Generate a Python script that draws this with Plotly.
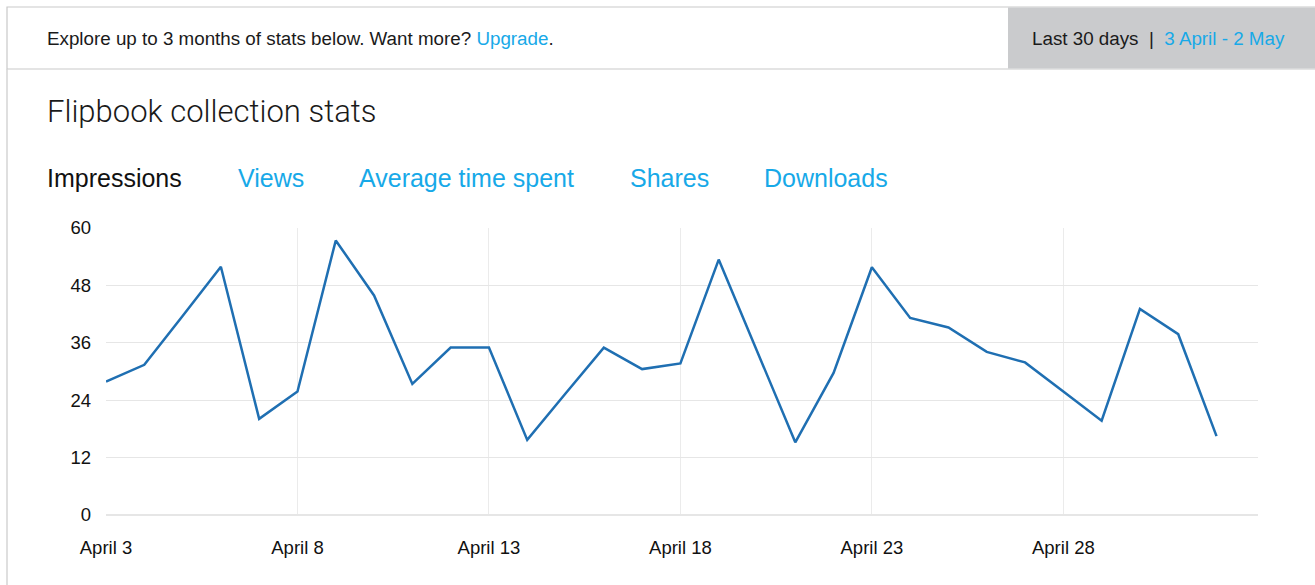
import plotly.graph_objects as go

# ---- data ----
dates = ["2019-04-03", "2019-04-04", "2019-04-05", "2019-04-06", "2019-04-07", "2019-04-08",
         "2019-04-09", "2019-04-10", "2019-04-11", "2019-04-12", "2019-04-13", "2019-04-14",
         "2019-04-15", "2019-04-16", "2019-04-17", "2019-04-18", "2019-04-19", "2019-04-20",
         "2019-04-21", "2019-04-22", "2019-04-23", "2019-04-24", "2019-04-25", "2019-04-26",
         "2019-04-27", "2019-04-28", "2019-04-29", "2019-04-30", "2019-05-01", "2019-05-02"]
impressions = [27.9, 31.4, 41.6, 51.9, 20.1, 25.8, 57.4, 45.9, 27.4, 35.0, 35.0, 15.7,
               25.4, 35.0, 30.5, 31.7, 53.4, 34.3, 15.2, 29.7, 51.8, 41.2, 39.2, 34.1,
               31.9, 25.8, 19.7, 43.1, 37.8, 16.5]
x_tick_dates = ["2019-04-03", "2019-04-08", "2019-04-13", "2019-04-18", "2019-04-23", "2019-04-28"]
x_tick_labels = ["April 3", "April 8", "April 13", "April 18", "April 23", "April 28"]
y_ticks = [0, 12, 24, 36, 48, 60]
tabs = ["Impressions", "Views", "Average time spent", "Shares", "Downloads"]
tab_x = [46, 237, 358, 629, 763]

W, H = 1315, 585
L, R, T, B = 106, 1258, 228, 515
BLUE = "#17a9e8"
FONT = "Liberation Sans, Arial, sans-serif"


def px(x):
    return (x - L) / (R - L)


def py(y):
    return (B - y) / (B - T)


fig = go.Figure()
fig.add_trace(go.Scatter(x=dates, y=impressions, mode="lines",
                         line=dict(color="#1f6fb2", width=2.5), hoverinfo="skip"))

shapes = [
    dict(type="rect", xref="paper", yref="paper", x0=px(7), x1=px(1330), y0=py(69), y1=py(7),
         line=dict(color="#c9c9c9", width=1.2), fillcolor="white", layer="below"),
    dict(type="rect", xref="paper", yref="paper", x0=px(1008), x1=px(1330), y0=py(68.5), y1=py(7.5),
         line=dict(width=0), fillcolor="#cacbcd", layer="below"),
    dict(type="line", xref="paper", yref="paper", x0=px(7), x1=px(7), y0=py(69), y1=py(600),
         line=dict(color="#d4d4d4", width=1.5)),
]

annotations = [
    dict(text="Explore up to 3 months of stats below. Want more? "
              f"<span style='color:{BLUE}'>Upgrade</span>.",
         x=px(45), y=py(38), font=dict(size=18.8, color="#1a1a1a", family=FONT)),
    dict(text=f"Last 30 days  |  <span style='color:{BLUE}'>3 April - 2 May</span>",
         x=px(1287), y=py(38), xanchor="right", font=dict(size=18.8, color="#1a1a1a", family=FONT)),
    dict(text="Flipbook collection stats", x=px(45), y=py(111),
         font=dict(size=31, color="#1a1a1a", family="Roboto, " + FONT, weight=300)),
]
for i, (t, x) in enumerate(zip(tabs, tab_x)):
    annotations.append(dict(text=t, x=px(x - 1), y=py(178),
                            font=dict(size=25, color="#111111" if i == 0 else BLUE, family=FONT)))
for a in annotations:
    a.setdefault("xanchor", "left")
    a.update(xref="paper", yref="paper", yanchor="middle", showarrow=False)

fig.update_layout(
    width=W, height=H,
    margin=dict(l=L, r=W - R, t=T, b=H - B, pad=0),
    paper_bgcolor="white", plot_bgcolor="white",
    showlegend=False,
    font=dict(family=FONT, size=18.5, color="#111111"),
    shapes=shapes, annotations=annotations,
    xaxis=dict(type="date", range=["2019-04-03", "2019-05-03 02:00"],
               tickvals=x_tick_dates, ticktext=x_tick_labels,
               showgrid=True, gridcolor="#ebebeb", gridwidth=1.2,
               showline=False, zeroline=False, ticks="", ticklabelstandoff=19,
               fixedrange=True),
    yaxis=dict(range=[0, 60], tickvals=y_ticks, showgrid=True, gridcolor="#e6e6e6",
               gridwidth=1.2, zeroline=True, zerolinecolor="#e6e6e6", zerolinewidth=1.5,
               showline=False, ticks="", ticklabelstandoff=14, fixedrange=True),
)

fig.write_html("out.html", config={"displayModeBar": False},
               post_script="document.body.style.margin='0px';")
